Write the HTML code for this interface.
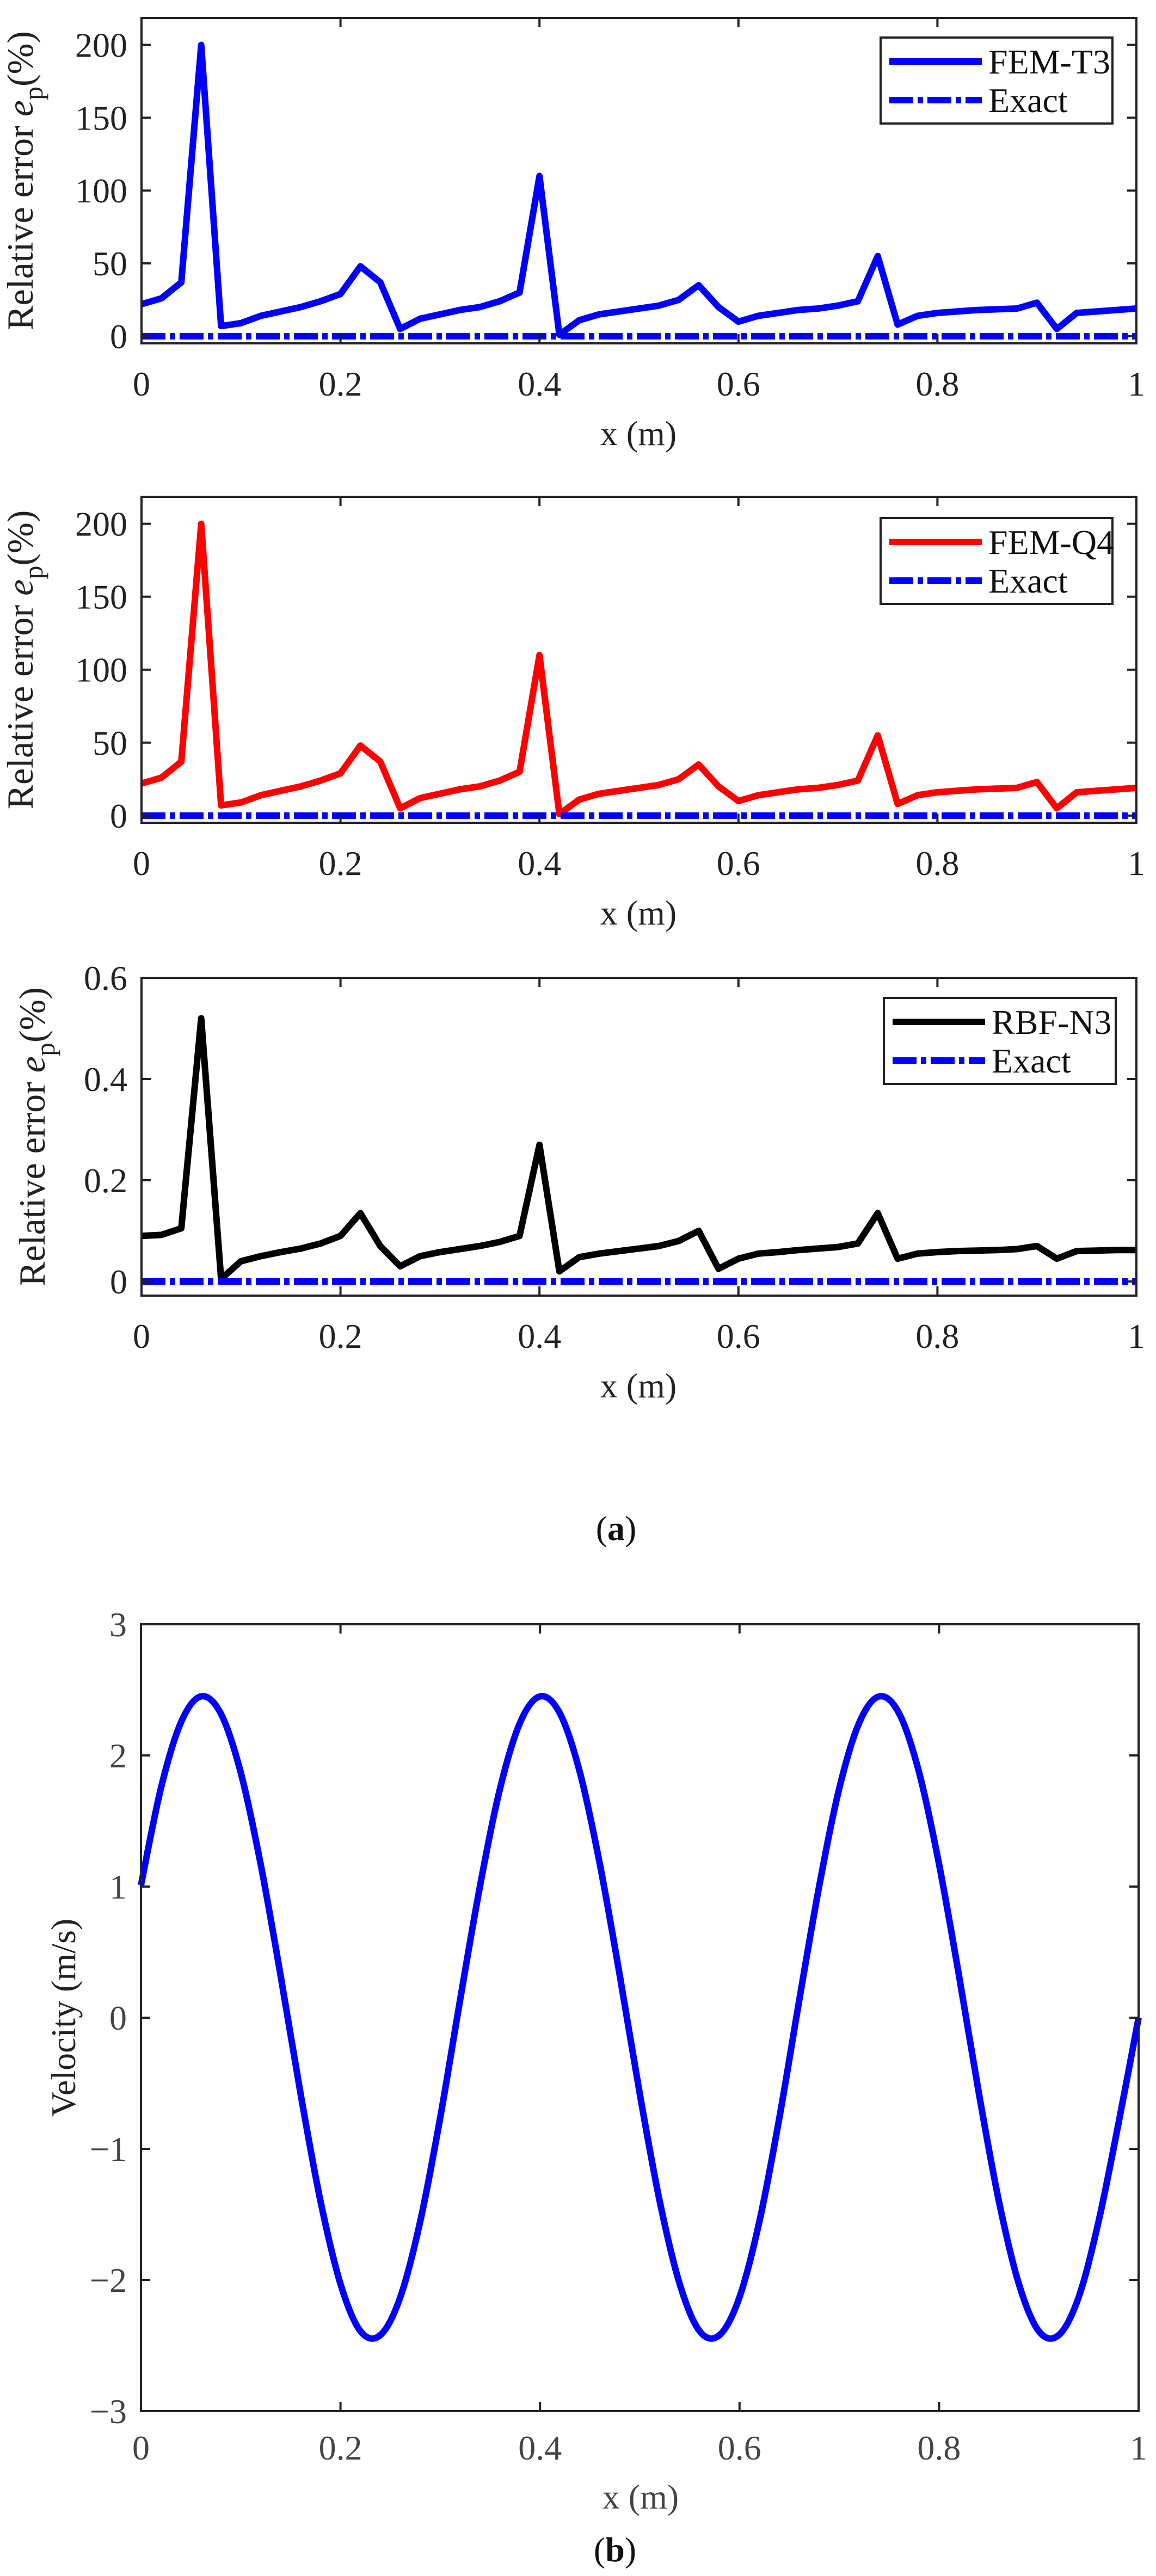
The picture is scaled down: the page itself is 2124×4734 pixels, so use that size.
<!DOCTYPE html>
<html><head><meta charset="utf-8">
<style>
html,body{margin:0;padding:0;background:#fff;}
svg{display:block;font-family:"Liberation Serif","Times New Roman",serif;}
</style></head>
<body>
<svg id="fig" xmlns="http://www.w3.org/2000/svg" width="2124" height="4734" viewBox="0 0 2124 4734">
<rect x="0" y="0" width="2124" height="4734" fill="#fff"/>
<text x="1132" y="2830" font-size="64" text-anchor="middle" fill="#111">(<tspan font-weight="bold">a</tspan>)</text>
<text x="1130" y="4707" font-size="64" text-anchor="middle" fill="#111">(<tspan font-weight="bold">b</tspan>)</text>
</svg>
<script>
const xPts = [0,0.02,0.04,0.06,0.08,0.1,0.12,0.14,0.16,0.18,0.2,0.22,0.24,0.26,0.28,0.3,0.32,0.34,0.36,0.38,0.4,0.42,0.44,0.46,0.48,0.5,0.52,0.54,0.56,0.58,0.6,0.62,0.64,0.66,0.68,0.7,0.72,0.74,0.76,0.78,0.8,0.82,0.84,0.86,0.88,0.9,0.92,0.94,0.96,0.98,1];
const femT3 = [22,26,37,200,7,9,14,17,20,24,29,48,37,5,12,15,18,20,24,30,110,1,11,15,17,19,21,25,35,20,10,14,16,18,19,21,24,55,8,14,16,17,18,18.5,19,23,5,16,17,18,19];
const femQ4 = [22,26,37,200,7,9,14,17,20,24,29,48,37,5,12,15,18,20,24,30,110,1,11,15,17,19,21,25,35,20,10,14,16,18,19,21,24,55,8,14,16,17,18,18.5,19,23,5,16,17,18,19];
const rbfN3 = [0.09,0.092,0.105,0.52,0.005,0.04,0.05,0.058,0.065,0.075,0.09,0.135,0.07,0.03,0.05,0.058,0.064,0.07,0.078,0.09,0.27,0.02,0.048,0.055,0.06,0.065,0.07,0.08,0.1,0.025,0.045,0.055,0.058,0.062,0.065,0.068,0.075,0.135,0.045,0.055,0.058,0.06,0.061,0.062,0.064,0.07,0.045,0.06,0.061,0.062,0.062];
const exactErr = [0,0];
const exactX = [0,1];
const velX = [0,0.02,0.04,0.06,0.08,0.1,0.12,0.14,0.16,0.18,0.2,0.22,0.24,0.26,0.28,0.3,0.32,0.34,0.36,0.38,0.4,0.42,0.44,0.46,0.48,0.5,0.52,0.54,0.56,0.58,0.6,0.62,0.64,0.66,0.68,0.7,0.72,0.74,0.76,0.78,0.8,0.82,0.84,0.86,0.88,0.9,0.92,0.94,0.96,0.98,1];
const velY = [1.01,1.75,2.25,2.45,2.32,1.87,1.17,0.32,-0.58,-1.40,-2.03,-2.39,-2.42,-2.13,-1.55,-0.76,0.14,1.01,1.75,2.25,2.45,2.32,1.87,1.17,0.32,-0.58,-1.40,-2.03,-2.39,-2.42,-2.13,-1.55,-0.76,0.14,1.01,1.75,2.25,2.45,2.32,1.87,1.17,0.32,-0.58,-1.40,-2.03,-2.39,-2.42,-2.13,-1.55,-0.80,0.0];
const xTicks = [0,0.2,0.4,0.6,0.8,1];
const xTickLabels = ["0","0.2","0.4","0.6","0.8","1"];
const errTicks = [0,50,100,150,200];
const errTickLabels = ["0","50","100","150","200"];
const rbfTicks = [0,0.2,0.4,0.6];
const rbfTickLabels = ["0","0.2","0.4","0.6"];
const velTicks = [-3,-2,-1,0,1,2,3];
const velTickLabels = ["\u22123","\u22122","\u22121","0","1","2","3"];

const NS="http://www.w3.org/2000/svg";
const svg=document.getElementById('fig');
function mk(tag,attrs,parent){const e=document.createElementNS(NS,tag);for(const k in attrs)e.setAttribute(k,attrs[k]);(parent||svg).appendChild(e);return e;}

function axes(o){
  const g=mk('g',{});
  
  
  const sx=v=>o.L+(v-o.xmin)/(o.xmax-o.xmin)*(o.R-o.L);
  const sy=v=>o.B-(v-o.ymin)/(o.ymax-o.ymin)*(o.B-o.T);
  const plot=mk('g',{},g);
  o.series.forEach(s=>{
    let d='';
    if(s.smooth){
      const P=s.x.map((v,i)=>[sx(v),sy(s.y[i])]);
      d='M'+P[0][0]+','+P[0][1];
      for(let i=0;i<P.length-1;i++){
        const p0=P[Math.max(0,i-1)],p1=P[i],p2=P[i+1],p3=P[Math.min(P.length-1,i+2)];
        const c1=[p1[0]+(p2[0]-p0[0])/6,p1[1]+(p2[1]-p0[1])/6];
        const c2=[p2[0]-(p3[0]-p1[0])/6,p2[1]-(p3[1]-p1[1])/6];
        d+=' C'+c1[0]+','+c1[1]+' '+c2[0]+','+c2[1]+' '+p2[0]+','+p2[1];
      }
    } else {
      d=s.x.map((v,i)=>(i?'L':'M')+sx(v)+','+sy(s.y[i])).join(' ');
    }
    const p=mk('path',{d:d,fill:'none',stroke:s.color,'stroke-width':12,'stroke-linejoin':'round'},plot);
    if(s.dash)p.setAttribute('stroke-dasharray',s.dash);
    
    
  });
  const fr=mk('rect',{x:o.L,y:o.T,width:o.R-o.L,height:o.B-o.T,fill:'none',stroke:'#222','stroke-width':4},g);
  
  
  const tl=17;
  o.xt.forEach((v,i)=>{
    const x=sx(v);
    mk('line',{x1:x,y1:o.B,x2:x,y2:o.B-tl,stroke:'#222','stroke-width':4},g);
    mk('line',{x1:x,y1:o.T,x2:x,y2:o.T+tl,stroke:'#222','stroke-width':4},g);
    const t=mk('text',{x:x,y:o.B+o.xtOff,'font-size':64,'text-anchor':'middle',fill:o.tickColor},g);
    t.textContent=o.xtl[i];
    
    
  });
  o.yt.forEach((v,i)=>{
    const y=sy(v);
    mk('line',{x1:o.L,y1:y,x2:o.L+tl,y2:y,stroke:'#222','stroke-width':4},g);
    mk('line',{x1:o.R,y1:y,x2:o.R-tl,y2:y,stroke:'#222','stroke-width':4},g);
    const t=mk('text',{x:o.L-26,y:y+22,'font-size':64,'text-anchor':'end',fill:o.tickColor},g);
    t.textContent=o.ytl[i];
    
    
  });
  const xl=mk('text',{x:o.xlX,y:o.xlY,'font-size':64,'text-anchor':'middle',fill:o.tickColor},g);
  xl.textContent='x (m)';
  
  
  const cy=(o.T+o.B)/2;
  const yl=mk('text',{x:0,y:0,'font-size':o.ylabelErr?68:64,'text-anchor':'middle',fill:'#222',transform:'translate('+(o.ylX)+','+cy+') rotate(-90)'},g);
  if(o.ylabelErr){
    yl.innerHTML='Relative error <tspan font-style="italic">e</tspan><tspan font-size="50" dy="18">p</tspan><tspan dy="-18">(%)</tspan>';
  } else yl.textContent=o.ylabel;
  
  
  if(o.legend){
    const lg=mk('g',{},g);
    
    
    const Lx=o.legend.x,Ly=o.legend.y;
    mk('rect',{x:Lx,y:Ly,width:426,height:158,fill:'#fff',stroke:'#222','stroke-width':4},lg);
    o.series.forEach((s,i)=>{
      const yy=Ly+44+i*71;
      const ln=mk('line',{x1:Lx+16,y1:yy,x2:Lx+186,y2:yy,stroke:s.color,'stroke-width':12},lg);
      if(s.dash)ln.setAttribute('stroke-dasharray',s.dash);
      
      
      const t=mk('text',{x:Lx+198,y:yy+22,'font-size':64,fill:'#111'},lg);
      t.textContent=s.label;
      
      
    });
  }
}
const dash='44 8 10 8';
axes({name:'chart-fem-t3',L:260,R:2088,T:33,B:631,xmin:0,xmax:1,ymin:-4.9,ymax:218.5,
  xt:xTicks,xtl:xTickLabels,yt:errTicks,ytl:errTickLabels,xtOff:96,xlX:1173,xlY:818,ylX:60,ylabelErr:true,tickColor:'#222',
  series:[{name:'fem-t3-line',label:'FEM-T3',x:xPts,y:femT3,color:'#0000ff'},{name:'exact-line',label:'Exact',x:exactX,y:exactErr,color:'#0000ff',dash:dash}],
  legend:{x:1618,y:69}});
axes({name:'chart-fem-q4',L:260,R:2088,T:913,B:1512,xmin:0,xmax:1,ymin:-4.9,ymax:218.5,
  xt:xTicks,xtl:xTickLabels,yt:errTicks,ytl:errTickLabels,xtOff:96,xlX:1173,xlY:1699,ylX:60,ylabelErr:true,tickColor:'#222',
  series:[{name:'fem-q4-line',label:'FEM-Q4',x:xPts,y:femQ4,color:'#ff0000'},{name:'exact-line',label:'Exact',x:exactX,y:exactErr,color:'#0000ff',dash:dash}],
  legend:{x:1618,y:952}});
axes({name:'chart-rbf-n3',L:260,R:2088,T:1797,B:2381,xmin:0,xmax:1,ymin:-0.028,ymax:0.6,
  xt:xTicks,xtl:xTickLabels,yt:rbfTicks,ytl:rbfTickLabels,xtOff:96,xlX:1173,xlY:2568,ylX:82,ylabelErr:true,tickColor:'#222',
  series:[{name:'rbf-n3-line',label:'RBF-N3',x:xPts,y:rbfN3,color:'#000000'},{name:'exact-line',label:'Exact',x:exactX,y:exactErr,color:'#0000ff',dash:dash}],
  legend:{x:1624,y:1834}});
axes({name:'chart-velocity',L:259,R:2092,T:2985,B:4431,xmin:0,xmax:1,ymin:-3,ymax:3,
  xt:xTicks,xtl:xTickLabels,yt:velTicks,ytl:velTickLabels,xtOff:89,xlX:1177,xlY:4610,ylX:138,ylabel:'Velocity (m/s)',tickColor:'#444',
  series:[{name:'velocity-line',label:'Velocity',x:velX,y:velY,color:'#0000ff',smooth:true}]});
</script>
</body></html>
